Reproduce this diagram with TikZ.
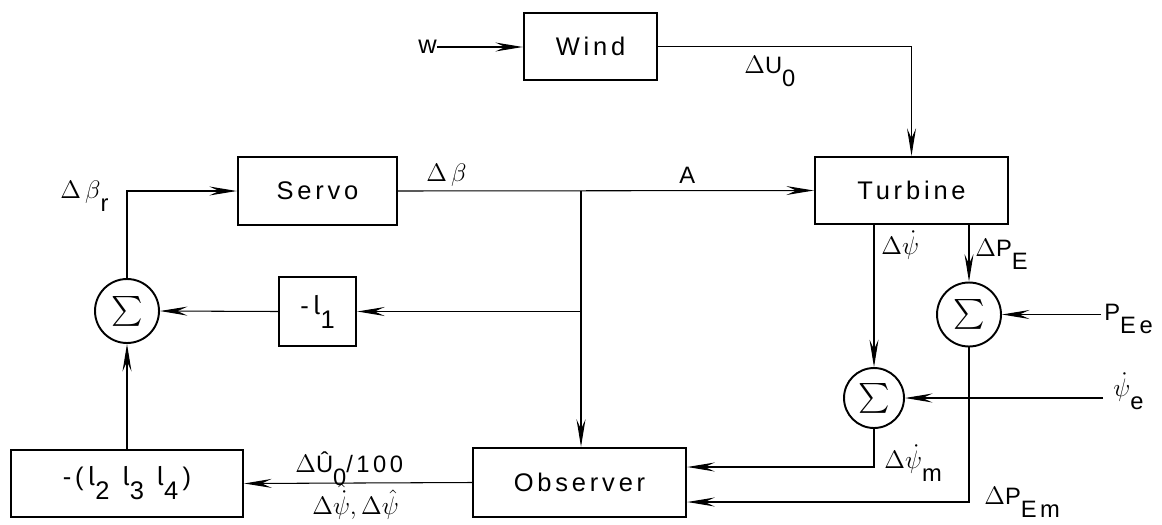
\documentclass[tikz,border=0pt]{standalone}
\usepackage{fontspec}
\usepackage{graphicx}
\usetikzlibrary{arrows.meta,calc}
\newfontfamily\din[LetterSpace=15]{Liberation Sans}
\newfontfamily\ellfont{Fira Sans}
\newcommand\lo[1]{\raisebox{-0.55em}{#1}}
\newcommand\myell{{\ellfont l}}
\begin{document}
\begin{tikzpicture}[x=0.02cm,y=-0.02cm,
  blk/.style={draw,line width=1.4pt,inner sep=0pt,font=\din\fontsize{14.5}{16}\selectfont},
  sumnode/.style={draw,circle,line width=1.1pt,inner sep=0pt},
  lab/.style={font=\din\fontsize{13.5}{15}\selectfont,inner sep=0pt},
  conn/.style={line width=0.6pt},
  arr/.style={conn,-{Stealth[length=0.55cm,width=0.18cm,inset=0.2cm]}}]
\useasboundingbox (0,0) rectangle (1162,524);

% blocks
\node[blk,minimum width=2.66cm,minimum height=1.34cm] (wind) at (590.5,46.5) {Wind};
\node[blk,minimum width=3.18cm,minimum height=1.36cm] (servo) at (317.5,191) {Servo};
\node[blk,minimum width=3.86cm,minimum height=1.34cm] (turb) at (911.5,190.5) {Turbine};
\node[blk,minimum width=1.54cm,minimum height=1.38cm] (l1) at (317.5,311.5) {-\,\myell\lo{1}};
\node[blk,minimum width=4.64cm,minimum height=1.34cm] (lk) at (127,483.5) {-(\,\myell\lo{2}\enspace\myell\lo{3}\enspace\myell\lo{4}\,)};
\node[blk,minimum width=4.26cm,minimum height=1.38cm] (obs) at (579.5,482.5) {Observer};

% summing junctions
\node[sumnode,minimum size=1.28cm] (s1) at (127,311) {\scalebox{1.7}{$\sum$}};
\node[sumnode,minimum size=1.2cm] (s2) at (874,398) {\scalebox{1.7}{$\sum$}};
\node[sumnode,minimum size=1.28cm] (s3) at (969,314.5) {\scalebox{1.7}{$\sum$}};

% input
\node[font=\din\fontsize{14.5}{16}\selectfont,inner sep=0pt,anchor=east] (w) at (437,47) {w};

% connectors
\coordinate (b1) at (581,191);
\coordinate (b2) at (581,311.5);
\coordinate (pee) at (1101,314.5);
\coordinate (pse) at (1103,398);
\draw[arr] (w.east) -- (w.east -| wind.west);
\draw[arr] (wind.east) -| (turb.north);
\draw[arr] (servo.east) -- (turb.west);
\draw[arr] (b1) -- (b1 |- obs.north);
\draw[arr] (b2) -- (l1.east);
\draw[arr] (l1.west) -- (s1.east);
\draw[arr] (s1.north) |- (servo.west);
\draw[arr] (lk.north) -- (s1.south);
\draw[arr] (obs.west) -- (lk.east);
\draw[arr] (turb.south -| s2.north) -- (s2.north);
\draw[arr] (turb.south -| s3.north) -- (s3.north);
\draw[arr] (pee) -- (s3.east);
\draw[arr] (pse) -- (s2.east);
\draw[arr] (s2.south) |- ($(obs.east)+(0,-15.5)$);
\draw[arr] (s3.south) |- ($(obs.east)+(0,19.5)$);

% labels
\node[lab,anchor=base west] (lbeta) at (426,181) {$\Delta\,\beta$};
\node[lab,anchor=base west] (lA) at (679,183) {A};
\node[lab,anchor=base west] (lU0) at (744,73) {$\Delta$U\lo{0}};
\node[lab,anchor=base west] (lbr) at (60,198) {$\Delta\,\beta$\lo{r}};
\node[lab,anchor=base west] (lU100) at (295,472) {$\Delta$Û\lo{0}/100};
\node[lab,anchor=base west] (lpsihat) at (312,514) {$\Delta\hat{\dot\psi},\Delta\hat\psi$};
\node[lab,anchor=base west] (lpsi) at (881,254) {$\Delta\dot\psi$};
\node[lab,anchor=base west] (lPE) at (975,256) {$\Delta$P\lo{E}};
\node[lab,anchor=base west] (lPEe) at (1104,320) {P\lo{Ee}};
\node[lab,anchor=base west] (lpsie) at (1113,396) {$\dot\psi$\lo{e}};
\node[lab,anchor=base west] (lpsim) at (884,468) {$\Delta\dot\psi$\lo{m}};
\node[lab,anchor=base west] (lPEm) at (984,504) {$\Delta$P\lo{Em}};
\end{tikzpicture}
\end{document}
